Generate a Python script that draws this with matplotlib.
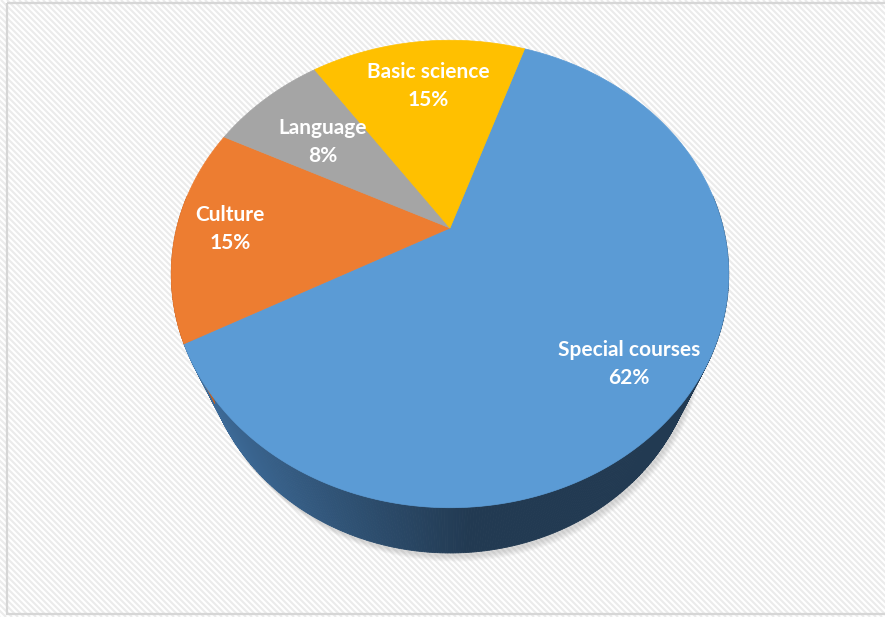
import numpy as np
import matplotlib.pyplot as plt
from matplotlib.patches import Polygon, Rectangle
from matplotlib.colors import to_rgb

# data
labels = ["Special courses", "Culture", "Language", "Basic science"]
shares = [62, 15, 8, 15]
top_colors = ["#5B9BD5", "#ED7D31", "#A5A5A5", "#FFC000"]
side_light = ["#3f6e9d", "#b9612a", "#808080", "#c79600"]
side_dark = ["#223a52", "#a4541f", "#6e6e6e", "#b08400"]

# layout of the fake 3d pie (pixels)
W, H = 885, 617
CX, CY = 450, 228
KX, KY = 828, 848
D = 3.03
ELEV = np.radians(53.4)
THICK = 0.45
START = 71.1
label_xy = [(629, 364), (230, 229), (323, 142), (428, 86)]


def project(theta, r=1.0, z=0.0):
    c, s = np.cos(ELEV), np.sin(ELEV)
    x = r * np.cos(theta)
    y = r * np.sin(theta)
    depth = D + y * c - z * s
    sx = x / depth
    sy = (y * s + z * c) / depth
    return CX + KX * sx, CY - KY * sy


def mix(c1, c2, t):
    a, b = np.array(to_rgb(c1)), np.array(to_rgb(c2))
    return tuple(a + (b - a) * t)


fig = plt.figure(figsize=(W / 100, H / 100), dpi=100)
ax = fig.add_axes([0, 0, 1, 1])
ax.set_xlim(0, W)
ax.set_ylim(H, 0)
ax.axis("off")

# striped background
for b in range(-H, W, 6):
    ax.plot([b, b + H], [0, H], color="#ebebeb", lw=1.5, zorder=0, solid_capstyle="butt")
ax.add_patch(Rectangle((7, 3), W, 611, fill=False, ec="#d6d6d6", lw=1.6, zorder=1))

# soft shadow under the pie
full = np.linspace(0, 2 * np.pi, 240)
bx, by = project(full, 1.0, -THICK)
for i in range(8):
    ax.add_patch(Polygon(np.column_stack([bx + 2 + i * 0.4, by + 3 + i * 0.8]),
                         closed=True, fc="#9a9a9a", ec="none", alpha=0.05, zorder=2))

edges = START - 360 * np.cumsum([0] + shares) / sum(shares)

# side walls, drawn in thin strips so the blue side can shade from left to right
for i in range(len(shares)):
    a0, a1 = np.radians(edges[i]), np.radians(edges[i + 1])
    ts = np.linspace(a1, a0, max(int(abs(edges[i] - edges[i + 1])), 2) * 2)
    for t0, t1 in zip(ts[:-1], ts[1:]):
        if np.sin((t0 + t1) / 2) > 0.15:
            continue
        x0, y0 = project(t0)
        x1, y1 = project(t1)
        x2, y2 = project(t1, 1.0, -THICK)
        x3, y3 = project(t0, 1.0, -THICK)
        f = np.clip((x0 - 185) / (470 - 185), 0, 1)
        col = mix(side_light[i], side_dark[i], f)
        ax.add_patch(Polygon([(x0, y0), (x1, y1), (x2, y2), (x3, y3)], closed=True,
                             fc=col, ec=col, lw=0.6, zorder=3))

# top faces
for i in range(len(shares)):
    ts = np.radians(np.linspace(edges[i + 1], edges[i], 200))
    px, py = project(ts)
    pts = np.vstack([[CX, CY], np.column_stack([px, py])])
    ax.add_patch(Polygon(pts, closed=True, fc=top_colors[i], ec=top_colors[i], lw=0.5, zorder=4))

for i, lab in enumerate(labels):
    ax.text(label_xy[i][0], label_xy[i][1], f"{lab}\n{shares[i]}%", ha="center", va="center",
            color="white", fontsize=15, fontweight="bold", family="Lato",
            linespacing=1.5, zorder=5)

fig.savefig("out.png", dpi=100)
